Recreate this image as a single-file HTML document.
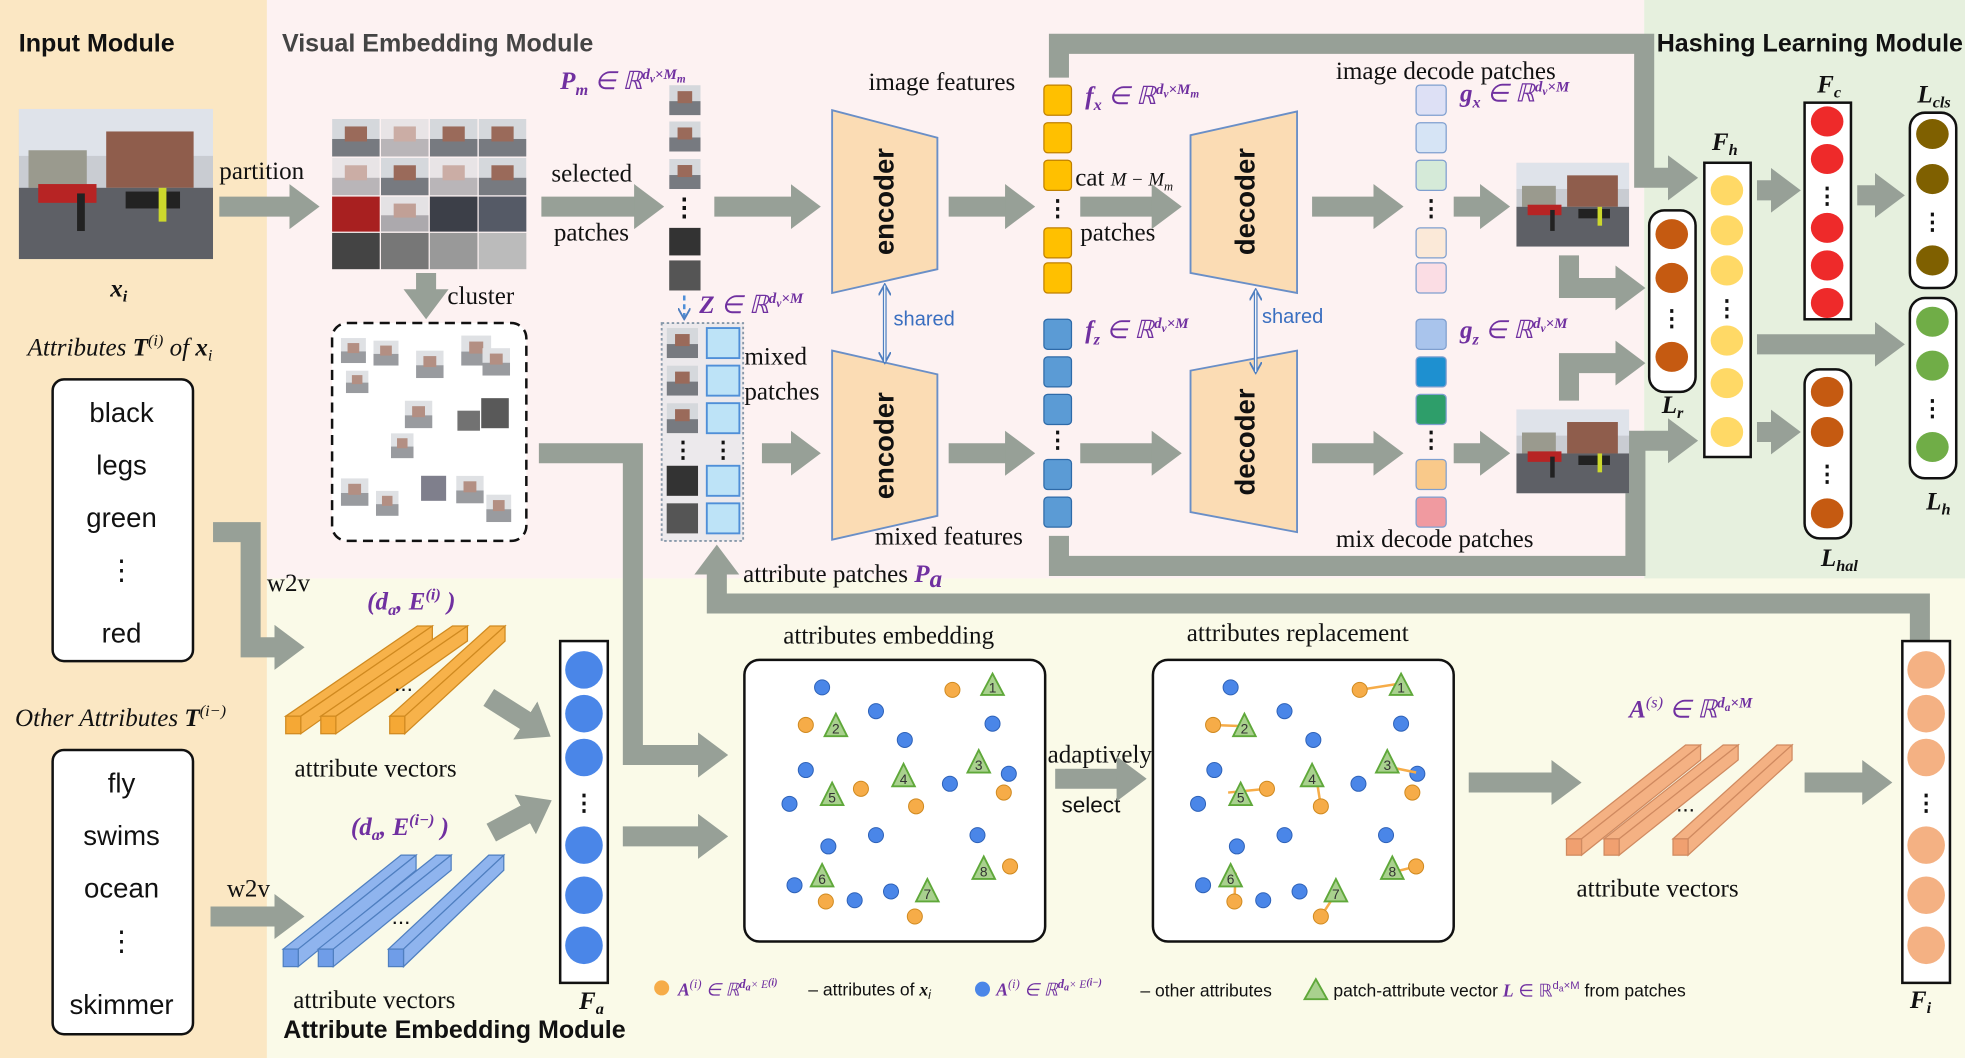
<!DOCTYPE html>
<html><head><meta charset="utf-8"><style>
html,body{margin:0;padding:0;background:#fff;width:1965px;height:1058px;overflow:hidden}
svg{display:block}
.s{font-family:"Liberation Serif",serif;font-size:20px;fill:#111}
.a{font-family:"Liberation Sans",sans-serif;fill:#111}
.m{font-family:"Liberation Serif",serif;font-style:italic;font-weight:bold;fill:#7030a0;font-size:20px}
.t{font-family:"Liberation Sans",sans-serif;font-weight:bold;font-size:20px;fill:#111}
.n{font-family:"Liberation Sans",sans-serif;font-size:11px;fill:#333;text-anchor:middle}
.ar{stroke:#97a097;stroke-width:16;fill:none}
</style></head><body>
<svg width="1965" height="1058" viewBox="0 0 1568 845" preserveAspectRatio="none" xmlns="http://www.w3.org/2000/svg">
<defs>
<marker id="h" markerUnits="userSpaceOnUse" markerWidth="24" markerHeight="36" refX="1" refY="18" orient="auto"><path d="M0,0 L24,18 L0,36z" fill="#97a097"/></marker>
<marker id="b" markerUnits="userSpaceOnUse" markerWidth="10" markerHeight="10" refX="8" refY="5" orient="auto-start-reverse"><path d="M0,0 L9,5 L0,10" fill="none" stroke="#4f7fc0" stroke-width="1.5"/></marker>
<symbol id="ph" viewBox="0 0 100 80" preserveAspectRatio="none">
<rect width="100" height="80" fill="#c9ccd2"/><rect x="0" y="0" width="100" height="25" fill="#dfe3ea"/>
<rect x="45" y="12" width="45" height="30" fill="#8f5d4c"/><rect x="5" y="22" width="30" height="20" fill="#9a9a8e"/>
<rect x="0" y="42" width="100" height="38" fill="#5e6066"/><rect x="10" y="40" width="30" height="10" fill="#b72424"/>
<rect x="55" y="44" width="28" height="9" fill="#222"/><rect x="30" y="45" width="4" height="20" fill="#222"/><rect x="72" y="42" width="4" height="18" fill="#ccd82c"/>
</symbol>
<symbol id="pt" viewBox="0 0 30 30" preserveAspectRatio="none"><rect width="30" height="30" fill="#d5d8dc"/><rect y="16" width="30" height="14" fill="#777a80"/><rect x="8" y="6" width="14" height="12" fill="#9a6a5a"/></symbol>
</defs>
<rect x="0" y="0" width="213" height="845" fill="#fbe7c3"/>
<rect x="213" y="0" width="1099" height="462" fill="#fdf2f2"/>
<rect x="1312" y="0" width="256" height="462" fill="#e6f0de"/>
<rect x="213" y="462" width="1355" height="383" fill="#fafae8"/>
<text class="t" x="15" y="41">Input Module</text>
<text class="t" x="225" y="41" style="fill:#444">Visual Embedding Module</text>
<text class="t" x="1322" y="41">Hashing Learning Module</text>
<use href="#ph" x="15" y="87" width="155" height="120"/>
<text class="m" x="88" y="237" style="fill:#111">x<tspan font-size="13" dy="4">i</tspan></text>
<text class="s" x="22" y="284" font-style="italic">Attributes <tspan font-weight="bold">T</tspan><tspan font-size="13" dy="-8">(i)</tspan><tspan dy="8"> of </tspan><tspan font-weight="bold">x</tspan><tspan font-size="13" dy="4">i</tspan></text>
<rect x="42" y="303" width="112" height="225" rx="9" fill="#fff" stroke="#111" stroke-width="2"/>
<g class="a" font-size="22" text-anchor="middle"><text x="97" y="337">black</text><text x="97" y="379">legs</text><text x="97" y="421">green</text><text x="97" y="463">⋮</text><text x="97" y="513">red</text></g>
<text class="s" x="12" y="580" font-style="italic">Other Attributes <tspan font-weight="bold">T</tspan><tspan font-size="13" dy="-8">(i−)</tspan></text>
<rect x="42" y="599" width="112" height="227" rx="9" fill="#fff" stroke="#111" stroke-width="2"/>
<g class="a" font-size="22" text-anchor="middle"><text x="97" y="633">fly</text><text x="97" y="675">swims</text><text x="97" y="717">ocean</text><text x="97" y="759">⋮</text><text x="97" y="810">skimmer</text></g>
<text class="s" x="175" y="143">partition</text>
<line class="ar" x1="175" y1="165" x2="232" y2="165" marker-end="url(#h)"/>
<g>
<use href="#pt" x="265" y="95" width="38" height="30"/><use href="#pt" x="304" y="95" width="38" height="30" opacity=".5"/><use href="#pt" x="343" y="95" width="38" height="30"/><use href="#pt" x="382" y="95" width="38" height="30"/>
<use href="#pt" x="265" y="126" width="38" height="30" opacity=".5"/><use href="#pt" x="304" y="126" width="38" height="30"/><use href="#pt" x="343" y="126" width="38" height="30" opacity=".5"/><use href="#pt" x="382" y="126" width="38" height="30"/>
<rect x="265" y="157" width="38" height="28" fill="#a82020"/><use href="#pt" x="304" y="157" width="38" height="28" opacity=".6"/><rect x="343" y="157" width="38" height="28" fill="#3c3f48"/><rect x="382" y="157" width="38" height="28" fill="#555a66"/>
<rect x="265" y="186" width="38" height="29" fill="#444"/><rect x="304" y="186" width="38" height="29" fill="#777"/><rect x="343" y="186" width="38" height="29" fill="#999"/><rect x="382" y="186" width="38" height="29" fill="#bbb"/>
</g>
<line class="ar" x1="340" y1="218" x2="340" y2="232" marker-end="url(#h)"/>
<text class="s" x="357" y="243">cluster</text>
<rect x="265" y="258" width="155" height="174" rx="12" fill="#fff" stroke="#111" stroke-width="2" stroke-dasharray="8,5"/>
<g opacity=".75">
<use href="#pt" x="272" y="270" width="20" height="20"/><use href="#pt" x="298" y="272" width="20" height="20"/><use href="#pt" x="276" y="296" width="18" height="18"/><use href="#pt" x="332" y="280" width="22" height="22"/><use href="#pt" x="368" y="268" width="24" height="24"/><use href="#pt" x="385" y="278" width="22" height="22"/>
<use href="#pt" x="323" y="320" width="22" height="22"/><use href="#pt" x="312" y="346" width="18" height="20"/><rect x="384" y="318" width="22" height="24" fill="#222"/><rect x="365" y="328" width="18" height="16" fill="#444"/>
<use href="#pt" x="272" y="382" width="22" height="22"/><use href="#pt" x="300" y="392" width="18" height="20"/><rect x="336" y="380" width="20" height="20" fill="#556"/><use href="#pt" x="364" y="380" width="22" height="22"/><use href="#pt" x="388" y="395" width="20" height="22"/>
</g>
<text class="s" x="440" y="145">selected</text><text class="s" x="442" y="192">patches</text>
<line class="ar" x1="432" y1="165" x2="507" y2="165" marker-end="url(#h)"/>
<text class="m" x="447" y="71">P<tspan font-size="13" dy="5">m</tspan><tspan dy="-5" font-weight="normal"> ∈ ℝ</tspan><tspan font-size="12" dy="-8">d</tspan><tspan font-size="9" dy="3">v</tspan><tspan font-size="12" dy="-3">×M</tspan><tspan font-size="9" dy="3">m</tspan></text>
<use href="#pt" x="534" y="68" width="25" height="24"/><use href="#pt" x="534" y="97" width="25" height="24"/><use href="#pt" x="534" y="127" width="25" height="24"/>
<text class="a" x="546" y="172" font-size="20" text-anchor="middle" font-weight="bold">⋮</text>
<rect x="534" y="182" width="25" height="22" fill="#333"/><rect x="534" y="208" width="25" height="24" fill="#555"/>
<line x1="546" y1="236" x2="546" y2="254" stroke="#4f8fd8" stroke-width="2" stroke-dasharray="4,3" marker-end="url(#b)"/>
<text class="m" x="558" y="250">Z<tspan font-weight="normal"> ∈ ℝ</tspan><tspan font-size="12" dy="-8">d</tspan><tspan font-size="9" dy="3">v</tspan><tspan font-size="12" dy="-3">×M</tspan></text>
<rect x="528" y="258" width="65" height="174" fill="#ece9ec" stroke="#8899aa" stroke-width="1.5" stroke-dasharray="2,2"/>
<use href="#pt" x="532" y="262" width="25" height="24"/><use href="#pt" x="532" y="292" width="25" height="24"/><use href="#pt" x="532" y="322" width="25" height="24"/>
<rect x="532" y="372" width="25" height="24" fill="#333"/><rect x="532" y="402" width="25" height="24" fill="#555"/>
<g fill="#bde3f7" stroke="#4f8fd8" stroke-width="1.5"><rect x="564" y="262" width="26" height="24"/><rect x="564" y="292" width="26" height="24"/><rect x="564" y="322" width="26" height="24"/><rect x="564" y="372" width="26" height="24"/><rect x="564" y="402" width="26" height="24"/></g>
<text class="a" x="545" y="365" font-size="18" text-anchor="middle" font-weight="bold">⋮</text><text class="a" x="577" y="365" font-size="18" text-anchor="middle" font-weight="bold">⋮</text>
<text class="s" x="594" y="291">mixed</text><text class="s" x="594" y="319">patches</text>
<text class="s" x="593" y="465">attribute patches <tspan class="m">P</tspan><tspan class="m" font-size="13" dy="4">a</tspan></text>
<line class="ar" x1="570" y1="165" x2="632" y2="165" marker-end="url(#h)"/>
<line class="ar" x1="608" y1="362" x2="632" y2="362" marker-end="url(#h)"/>
<g fill="#fbdcb4" stroke="#6a8fc7" stroke-width="1.5">
<polygon points="664,88 748,110 748,215 664,234"/><polygon points="664,280 748,299 748,412 664,431"/>
<polygon points="950,108 1035,89 1035,234 950,218"/><polygon points="950,296 1035,280 1035,425 950,409"/></g>
<g class="a" font-size="22" font-weight="bold" text-anchor="middle">
<text transform="translate(713,161) rotate(-90)">encoder</text><text transform="translate(713,356) rotate(-90)">encoder</text>
<text transform="translate(1001,161) rotate(-90)">decoder</text><text transform="translate(1001,353) rotate(-90)">decoder</text></g>
<line x1="706" y1="228" x2="706" y2="289" stroke="#4f7fc0" stroke-width="3" marker-end="url(#b)" marker-start="url(#b)"/>
<line x1="706" y1="228" x2="706" y2="289" stroke="#fff" stroke-width="1"/>
<text class="a" x="713" y="260" font-size="16" style="fill:#3a6fc0">shared</text>
<line x1="1002" y1="232" x2="1002" y2="297" stroke="#4f7fc0" stroke-width="3" marker-end="url(#b)" marker-start="url(#b)"/>
<line x1="1002" y1="232" x2="1002" y2="297" stroke="#fff" stroke-width="1"/>
<text class="a" x="1007" y="258" font-size="16" style="fill:#3a6fc0">shared</text>
<line class="ar" x1="757" y1="165" x2="803" y2="165" marker-end="url(#h)"/>
<line class="ar" x1="757" y1="362" x2="803" y2="362" marker-end="url(#h)"/>
<path class="ar" d="M845,62 V35 H1312 V142 H1332" marker-end="url(#h)"/>
<path class="ar" d="M845,428 V452 H1305 V352 H1332" marker-end="url(#h)"/>
<path class="ar" d="M1532,515 V482 H572 V458" marker-end="url(#h)"/>
<g fill="#ffc000" stroke="#c08000" stroke-width="1"><rect x="833" y="68" width="22" height="24" rx="3"/><rect x="833" y="98" width="22" height="24" rx="3"/><rect x="833" y="128" width="22" height="24" rx="3"/><rect x="833" y="182" width="22" height="24" rx="3"/><rect x="833" y="210" width="22" height="24" rx="3"/></g>
<g fill="#5b9bd5" stroke="#2e6aa8" stroke-width="1"><rect x="833" y="255" width="22" height="24" rx="3"/><rect x="833" y="285" width="22" height="24" rx="3"/><rect x="833" y="315" width="22" height="24" rx="3"/><rect x="833" y="367" width="22" height="24" rx="3"/><rect x="833" y="397" width="22" height="24" rx="3"/></g>
<text class="a" x="844" y="172" font-size="18" text-anchor="middle" font-weight="bold">⋮</text><text class="a" x="844" y="357" font-size="18" text-anchor="middle" font-weight="bold">⋮</text>
<text class="s" x="693" y="72">image features</text>
<text class="m" x="866" y="83">f<tspan font-size="13" dy="5">x</tspan><tspan dy="-5" font-weight="normal"> ∈ ℝ</tspan><tspan font-size="12" dy="-8">d</tspan><tspan font-size="9" dy="3">v</tspan><tspan font-size="12" dy="-3">×M</tspan><tspan font-size="9" dy="3">m</tspan></text>
<text class="m" x="866" y="270">f<tspan font-size="13" dy="5">z</tspan><tspan dy="-5" font-weight="normal"> ∈ ℝ</tspan><tspan font-size="12" dy="-8">d</tspan><tspan font-size="9" dy="3">v</tspan><tspan font-size="12" dy="-3">×M</tspan></text>
<text class="s" x="858" y="148">cat <tspan font-style="italic" font-size="15">M − M</tspan><tspan font-size="10" dy="4" font-style="italic">m</tspan></text>
<text class="s" x="862" y="192">patches</text>
<text class="s" x="698" y="435">mixed features</text>
<line class="ar" x1="862" y1="165" x2="920" y2="165" marker-end="url(#h)"/>
<line class="ar" x1="862" y1="362" x2="920" y2="362" marker-end="url(#h)"/>
<line class="ar" x1="1047" y1="165" x2="1097" y2="165" marker-end="url(#h)"/>
<line class="ar" x1="1047" y1="362" x2="1097" y2="362" marker-end="url(#h)"/>
<g stroke="#7f9fcf" stroke-width="1"><rect x="1130" y="68" width="24" height="24" rx="3" fill="#dde0f5"/><rect x="1130" y="98" width="24" height="24" rx="3" fill="#d6e4f5"/><rect x="1130" y="128" width="24" height="24" rx="3" fill="#d5ead8"/><rect x="1130" y="182" width="24" height="24" rx="3" fill="#fbe9d8"/><rect x="1130" y="210" width="24" height="24" rx="3" fill="#fbdde4"/>
<rect x="1130" y="255" width="24" height="24" rx="3" fill="#a9c4ec"/><rect x="1130" y="285" width="24" height="24" rx="3" fill="#1e90d0"/><rect x="1130" y="315" width="24" height="24" rx="3" fill="#2e9e6a"/><rect x="1130" y="367" width="24" height="24" rx="3" fill="#f9c98a"/><rect x="1130" y="397" width="24" height="24" rx="3" fill="#f09aa0"/></g>
<text class="a" x="1142" y="172" font-size="18" text-anchor="middle" font-weight="bold">⋮</text><text class="a" x="1142" y="357" font-size="18" text-anchor="middle" font-weight="bold">⋮</text>
<text class="s" x="1066" y="63">image decode patches</text>
<text class="m" x="1165" y="81">g<tspan font-size="13" dy="5">x</tspan><tspan dy="-5" font-weight="normal"> ∈ ℝ</tspan><tspan font-size="12" dy="-8">d</tspan><tspan font-size="9" dy="3">v</tspan><tspan font-size="12" dy="-3">×M</tspan></text>
<text class="m" x="1165" y="270">g<tspan font-size="13" dy="5">z</tspan><tspan dy="-5" font-weight="normal"> ∈ ℝ</tspan><tspan font-size="12" dy="-8">d</tspan><tspan font-size="9" dy="3">v</tspan><tspan font-size="12" dy="-3">×M</tspan></text>
<text class="s" x="1066" y="437">mix decode patches</text>
<line class="ar" x1="1160" y1="165" x2="1182" y2="165" marker-end="url(#h)"/>
<line class="ar" x1="1160" y1="362" x2="1182" y2="362" marker-end="url(#h)"/>
<use href="#ph" x="1210" y="130" width="90" height="67"/><use href="#ph" x="1210" y="327" width="90" height="67"/>
<path class="ar" d="M1252,204 V230 H1290" marker-end="url(#h)"/>
<path class="ar" d="M1252,320 V290 H1290" marker-end="url(#h)"/>
<rect x="1316" y="168" width="37" height="145" rx="12" fill="#fff" stroke="#111" stroke-width="2"/>
<g fill="#c55a11"><ellipse cx="1334" cy="187" rx="13" ry="12"/><ellipse cx="1334" cy="222" rx="13" ry="12"/><ellipse cx="1334" cy="285" rx="13" ry="12"/></g>
<text class="a" x="1334" y="260" font-size="18" text-anchor="middle" font-weight="bold">⋮</text>
<text class="m" x="1326" y="330" style="fill:#111">L<tspan font-size="13" dy="4">r</tspan></text>
<rect x="1360" y="130" width="37" height="235" fill="#fff" stroke="#111" stroke-width="2"/>
<g fill="#ffd966"><ellipse cx="1378" cy="152" rx="13" ry="12"/><ellipse cx="1378" cy="184" rx="13" ry="12"/><ellipse cx="1378" cy="216" rx="13" ry="12"/><ellipse cx="1378" cy="272" rx="13" ry="12"/><ellipse cx="1378" cy="306" rx="13" ry="12"/><ellipse cx="1378" cy="345" rx="13" ry="12"/></g>
<text class="a" x="1378" y="252" font-size="18" text-anchor="middle" font-weight="bold">⋮</text>
<text class="m" x="1366" y="120" style="fill:#111">F<tspan font-size="13" dy="4">h</tspan></text>
<line class="ar" x1="1402" y1="152" x2="1414" y2="152" marker-end="url(#h)"/>
<rect x="1440" y="82" width="37" height="173" fill="#fff" stroke="#111" stroke-width="2"/>
<g fill="#ee2a2a"><ellipse cx="1458" cy="97" rx="13" ry="12"/><ellipse cx="1458" cy="127" rx="13" ry="12"/><ellipse cx="1458" cy="182" rx="13" ry="12"/><ellipse cx="1458" cy="212" rx="13" ry="12"/><ellipse cx="1458" cy="242" rx="13" ry="12"/></g>
<text class="a" x="1458" y="162" font-size="18" text-anchor="middle" font-weight="bold">⋮</text>
<text class="m" x="1450" y="74" style="fill:#111">F<tspan font-size="13" dy="4">c</tspan></text>
<line class="ar" x1="1482" y1="156" x2="1497" y2="156" marker-end="url(#h)"/>
<rect x="1524" y="90" width="37" height="140" rx="12" fill="#fff" stroke="#111" stroke-width="2"/>
<g fill="#7f6000"><ellipse cx="1542" cy="107" rx="13" ry="12"/><ellipse cx="1542" cy="143" rx="13" ry="12"/><ellipse cx="1542" cy="208" rx="13" ry="12"/></g>
<text class="a" x="1542" y="183" font-size="18" text-anchor="middle" font-weight="bold">⋮</text>
<text class="m" x="1530" y="82" style="fill:#111">L<tspan font-size="13" dy="4">cls</tspan></text>
<line class="ar" x1="1402" y1="275" x2="1497" y2="275" marker-end="url(#h)"/>
<rect x="1524" y="238" width="37" height="144" rx="12" fill="#fff" stroke="#111" stroke-width="2"/>
<g fill="#70ad47"><ellipse cx="1542" cy="257" rx="13" ry="12"/><ellipse cx="1542" cy="292" rx="13" ry="12"/><ellipse cx="1542" cy="357" rx="13" ry="12"/></g>
<text class="a" x="1542" y="332" font-size="18" text-anchor="middle" font-weight="bold">⋮</text>
<text class="m" x="1537" y="407" style="fill:#111">L<tspan font-size="13" dy="4">h</tspan></text>
<line class="ar" x1="1402" y1="345" x2="1414" y2="345" marker-end="url(#h)"/>
<rect x="1440" y="295" width="37" height="135" rx="12" fill="#fff" stroke="#111" stroke-width="2"/>
<g fill="#c55a11"><ellipse cx="1458" cy="313" rx="13" ry="12"/><ellipse cx="1458" cy="345" rx="13" ry="12"/><ellipse cx="1458" cy="410" rx="13" ry="12"/></g>
<text class="a" x="1458" y="384" font-size="18" text-anchor="middle" font-weight="bold">⋮</text>
<text class="m" x="1453" y="452" style="fill:#111">L<tspan font-size="13" dy="4">hal</tspan></text>
<text class="s" x="213" y="472">w2v</text>
<path class="ar" d="M170,425 H200 V517 H220" marker-end="url(#h)"/>
<text class="s" x="181" y="716">w2v</text>
<line class="ar" x1="168" y1="732" x2="220" y2="732" marker-end="url(#h)"/>
<text class="m" x="293" y="487" font-weight="normal">(d<tspan font-size="13" dy="4">a</tspan><tspan dy="-4">,  E</tspan><tspan font-size="13" dy="-8">(i)</tspan><tspan dy="8"> )</tspan></text>
<text class="m" x="280" y="667" font-weight="normal">(d<tspan font-size="13" dy="4">a</tspan><tspan dy="-4">,  E</tspan><tspan font-size="13" dy="-8">(i−)</tspan><tspan dy="8"> )</tspan></text>
<g fill="#f7b24a" stroke="#d08a20" stroke-width="1">
<polygon points="228,572 333,500 345,500 240,572"/><polygon points="240,572 345,500 345,512 240,586"/><rect x="228" y="572" width="12" height="14" fill="#f5a835"/>
<polygon points="256,572 361,500 373,500 268,572"/><polygon points="268,572 373,500 373,512 268,586"/><rect x="256" y="572" width="12" height="14" fill="#f5a835"/>
<polygon points="311,572 391,500 403,500 323,572"/><polygon points="323,572 403,500 403,512 323,586"/><rect x="311" y="572" width="12" height="14" fill="#f5a835"/></g>
<text class="a" x="322" y="552" font-size="18" text-anchor="middle">...</text>
<text class="s" x="235" y="620">attribute vectors</text>
<g fill="#8fb4ee" stroke="#4f7fc0" stroke-width="1">
<polygon points="226,758 320,683 332,683 238,758"/><polygon points="238,758 332,683 332,695 238,772"/><rect x="226" y="758" width="12" height="14" fill="#6f9de8"/>
<polygon points="254,758 348,683 360,683 266,758"/><polygon points="266,758 360,683 360,695 266,772"/><rect x="254" y="758" width="12" height="14" fill="#6f9de8"/>
<polygon points="310,758 390,683 402,683 322,758"/><polygon points="322,758 402,683 402,695 322,772"/><rect x="310" y="758" width="12" height="14" fill="#6f9de8"/></g>
<text class="a" x="320" y="738" font-size="18" text-anchor="middle">...</text>
<text class="s" x="234" y="805">attribute vectors</text>
<text class="t" x="226" y="829">Attribute Embedding Module</text>
<line class="ar" x1="390" y1="557" x2="420" y2="576" marker-end="url(#h)"/>
<line class="ar" x1="392" y1="665" x2="420" y2="650" marker-end="url(#h)"/>
<rect x="447" y="512" width="38" height="273" fill="#fff" stroke="#111" stroke-width="2"/>
<g fill="#4a86e8"><circle cx="466" cy="535" r="15"/><circle cx="466" cy="570" r="15"/><circle cx="466" cy="605" r="15"/><circle cx="466" cy="675" r="15"/><circle cx="466" cy="715" r="15"/><circle cx="466" cy="755" r="15"/></g>
<text class="a" x="466" y="647" font-size="18" text-anchor="middle" font-weight="bold">⋮</text>
<text class="m" x="462" y="806" style="fill:#111">F<tspan font-size="13" dy="4">a</tspan></text>
<path class="ar" d="M430,362 H505 V603 H558" marker-end="url(#h)"/>
<line class="ar" x1="497" y1="668" x2="558" y2="668" marker-end="url(#h)"/>
<text class="s" x="625" y="514">attributes embedding</text>
<text class="s" x="947" y="512">attributes replacement</text>
<rect x="594" y="527" width="240" height="225" rx="12" fill="#fff" stroke="#111" stroke-width="2"/>
<rect x="920" y="527" width="240" height="225" rx="12" fill="#fff" stroke="#111" stroke-width="2"/>
<g id="pts">
<g fill="#4a86e8" stroke="#2e62b8" stroke-width=".8"><circle cx="656" cy="549" r="6"/><circle cx="699" cy="568" r="6"/><circle cx="722" cy="591" r="6"/><circle cx="792" cy="578" r="6"/><circle cx="643" cy="615" r="6"/><circle cx="630" cy="642" r="6"/><circle cx="758" cy="626" r="6"/><circle cx="805" cy="618" r="6"/><circle cx="661" cy="676" r="6"/><circle cx="699" cy="667" r="6"/><circle cx="780" cy="667" r="6"/><circle cx="634" cy="707" r="6"/><circle cx="682" cy="719" r="6"/><circle cx="711" cy="712" r="6"/></g>
</g>
<use href="#pts" x="326" y="0"/>
<g fill="#f6ac48" stroke="#d08a20" stroke-width=".8"><circle cx="760" cy="551" r="6"/><circle cx="643" cy="579" r="6"/><circle cx="687" cy="630" r="6"/><circle cx="731" cy="644" r="6"/><circle cx="801" cy="633" r="6"/><circle cx="659" cy="720" r="6"/><circle cx="730" cy="732" r="6"/><circle cx="806" cy="692" r="6"/></g>
<g stroke="#f6ac48" stroke-width="2"><line x1="1085" y1="551" x2="1117" y2="546"/><line x1="968" y1="579" x2="994" y2="580"/><line x1="1011" y1="630" x2="980" y2="633"/><line x1="1054" y1="644" x2="1051" y2="625"/><line x1="1130" y1="617" x2="1106" y2="612"/><line x1="985" y1="720" x2="986" y2="697"/><line x1="1054" y1="732" x2="1067" y2="712"/><line x1="1130" y1="692" x2="1106" y2="698"/></g>
<g fill="#f6ac48" stroke="#d08a20" stroke-width=".8"><circle cx="1085" cy="551" r="6"/><circle cx="968" cy="579" r="6"/><circle cx="1011" cy="630" r="6"/><circle cx="1054" cy="644" r="6"/><circle cx="1127" cy="633" r="6"/><circle cx="985" cy="720" r="6"/><circle cx="1054" cy="732" r="6"/><circle cx="1130" cy="692" r="6"/></g>
<g id="tri">
<g fill="#a9d18e" stroke="#5fa83a" stroke-width="1.5"><polygon points="792,538 801,555 783,555"/><polygon points="667,570 676,588 658,588"/><polygon points="781,599 790,617 772,617"/><polygon points="721,610 730,628 712,628"/><polygon points="664,625 673,643 655,643"/><polygon points="656,690 665,708 647,708"/><polygon points="740,702 749,720 731,720"/><polygon points="785,684 794,702 776,702"/></g>
<g class="n"><text x="792" y="553">1</text><text x="667" y="586">2</text><text x="781" y="615">3</text><text x="721" y="626">4</text><text x="664" y="641">5</text><text x="656" y="706">6</text><text x="740" y="718">7</text><text x="785" y="700">8</text></g>
</g>
<use href="#tri" x="326" y="0"/>
<text class="s" x="836" y="609" font-size="18">adaptively</text>
<text class="a" x="847" y="649" font-size="18">select</text>
<line class="ar" x1="842" y1="622" x2="892" y2="622" marker-end="url(#h)"/>
<line class="ar" x1="1172" y1="625" x2="1239" y2="625" marker-end="url(#h)"/>
<text class="m" x="1300" y="573">A<tspan font-size="13" dy="-8" font-weight="normal">(s)</tspan><tspan dy="8" font-weight="normal"> ∈ ℝ</tspan><tspan font-size="12" dy="-8">d</tspan><tspan font-size="9" dy="3">a</tspan><tspan font-size="12" dy="-3">×M</tspan></text>
<g fill="#f4b183" stroke="#d08a60" stroke-width="1">
<polygon points="1250,670 1345,595 1357,595 1262,670"/><polygon points="1262,670 1357,595 1357,607 1262,683"/><rect x="1250" y="670" width="12" height="13" fill="#f0a070"/>
<polygon points="1280,670 1375,595 1387,595 1292,670"/><polygon points="1292,670 1387,595 1387,607 1292,683"/><rect x="1280" y="670" width="12" height="13" fill="#f0a070"/>
<polygon points="1335,670 1418,595 1430,595 1347,670"/><polygon points="1347,670 1430,595 1430,607 1347,683"/><rect x="1335" y="670" width="12" height="13" fill="#f0a070"/></g>
<text class="a" x="1345" y="648" font-size="18" text-anchor="middle">...</text>
<text class="s" x="1258" y="716">attribute vectors</text>
<line class="ar" x1="1440" y1="625" x2="1487" y2="625" marker-end="url(#h)"/>
<rect x="1518" y="512" width="38" height="273" fill="#fff" stroke="#111" stroke-width="2"/>
<g fill="#f4b183"><circle cx="1537" cy="535" r="15"/><circle cx="1537" cy="570" r="15"/><circle cx="1537" cy="605" r="15"/><circle cx="1537" cy="675" r="15"/><circle cx="1537" cy="715" r="15"/><circle cx="1537" cy="755" r="15"/></g>
<text class="a" x="1537" y="647" font-size="18" text-anchor="middle" font-weight="bold">⋮</text>
<text class="m" x="1524" y="805" style="fill:#111">F<tspan font-size="13" dy="4">i</tspan></text>
<circle cx="528" cy="789" r="6" fill="#f6ac48"/>
<text class="m" x="541" y="795" style="font-size:14px">A<tspan font-size="10" dy="-6" font-weight="normal">(i)</tspan><tspan dy="6" font-weight="normal"> ∈ ℝ</tspan><tspan font-size="10" dy="-6">d</tspan><tspan font-size="8" dy="2">a</tspan><tspan font-size="9" dy="-2" font-weight="normal">× E</tspan><tspan font-size="8" dy="-2">(i)</tspan></text>
<text class="a" x="645" y="795" font-size="14">– attributes of <tspan font-family="Liberation Serif" font-style="italic" font-weight="bold">x</tspan><tspan font-size="10" dy="3" font-style="italic">i</tspan></text>
<circle cx="784" cy="790" r="6" fill="#4a86e8"/>
<text class="m" x="795" y="795" style="font-size:14px">A<tspan font-size="10" dy="-6" font-weight="normal">(i)</tspan><tspan dy="6" font-weight="normal"> ∈ ℝ</tspan><tspan font-size="10" dy="-6">d</tspan><tspan font-size="8" dy="2">a</tspan><tspan font-size="9" dy="-2" font-weight="normal">× E</tspan><tspan font-size="8" dy="-2">(i−)</tspan></text>
<text class="a" x="910" y="796" font-size="14">– other attributes</text>
<polygon points="1050,782 1059,798 1041,798" fill="#a9d18e" stroke="#5fa83a" stroke-width="1.5"/>
<text class="a" x="1064" y="796" font-size="14">patch-attribute vector <tspan font-family="Liberation Serif" font-style="italic" font-weight="bold" fill="#7030a0">L</tspan><tspan fill="#7030a0"> ∈ ℝ</tspan><tspan font-size="9" dy="-6" fill="#7030a0">d</tspan><tspan font-size="7" dy="2" fill="#7030a0">a</tspan><tspan font-size="9" dy="-2" fill="#7030a0">×M</tspan><tspan dy="6"> from patches</tspan></text>
</svg>
</body></html>
